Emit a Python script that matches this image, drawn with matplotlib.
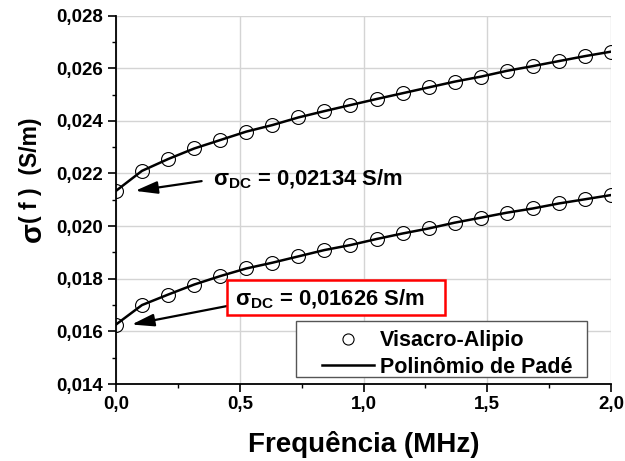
import matplotlib
matplotlib.use("Agg")
import matplotlib.pyplot as plt
from matplotlib.patches import Rectangle
from matplotlib.ticker import MultipleLocator, FuncFormatter

plt.rcParams['font.family'] = ['Liberation Sans', 'DejaVu Sans']
plt.rcParams['font.weight'] = 'bold'
plt.rcParams['mathtext.fontset'] = 'custom'
plt.rcParams['mathtext.rm'] = 'Liberation Sans:bold'
plt.rcParams['mathtext.bf'] = 'Liberation Sans:bold'
plt.rcParams['mathtext.it'] = 'Liberation Sans:bold'

# Frequency samples (MHz)
freq = [0.0, 0.105, 0.211, 0.316, 0.421, 0.526, 0.632, 0.737, 0.842, 0.947,
        1.053, 1.158, 1.263, 1.368, 1.474, 1.579, 1.684, 1.789, 1.895, 2.0]

# Conductivity (S/m) for the two soils
sigma_high = [0.02134, 0.02210, 0.02255, 0.02295, 0.02327, 0.02359, 0.02384,
              0.02413, 0.02437, 0.02460, 0.02483, 0.02505, 0.02527, 0.02549,
              0.02568, 0.02590, 0.02608, 0.02627, 0.02646, 0.02663]
sigma_low = [0.01626, 0.01700, 0.01740, 0.01778, 0.01810, 0.01839, 0.01861,
             0.01885, 0.01909, 0.01928, 0.01951, 0.01972, 0.01991, 0.02013,
             0.02032, 0.02051, 0.02067, 0.02086, 0.02102, 0.02118]

series_labels = ['Visacro-Alipio', 'Polinômio de Padé']
x_ticks = [0.0, 0.5, 1.0, 1.5, 2.0]
y_ticks = [0.014, 0.016, 0.018, 0.020, 0.022, 0.024, 0.026, 0.028]


def comma(v, nd):
    return f"{v:.{nd}f}".replace('.', ',')


fig = plt.figure(figsize=(6.25, 4.61), dpi=100)
ax = fig.add_axes([116 / 625, 1 - 384 / 461, 495 / 625, 368.4 / 461])

ax.grid(True, which='major', color='#d4d4d4', linewidth=1.0, zorder=0)
ax.set_axisbelow(True)

for s in (sigma_high, sigma_low):
    ax.plot(freq, s, linestyle='none', marker='o', markersize=10,
            markerfacecolor='none', markeredgecolor='black',
            markeredgewidth=0.8, zorder=3)
    ax.plot(freq, s, color='black', linewidth=1.8, zorder=4)

ax.set_xlim(0, 2.0)
ax.set_ylim(0.014, 0.028)
ax.set_xticks(x_ticks)
ax.set_yticks(y_ticks)
ax.xaxis.set_minor_locator(MultipleLocator(0.25))
ax.yaxis.set_minor_locator(MultipleLocator(0.001))
ax.xaxis.set_major_formatter(FuncFormatter(lambda v, p: comma(v, 1)))
ax.yaxis.set_major_formatter(FuncFormatter(lambda v, p: comma(v, 3)))
ax.tick_params(which='major', direction='out', length=6, width=1.2,
               labelsize=13.5, pad=3)
ax.tick_params(which='minor', direction='out', length=3, width=1.0)
for lab in ax.get_xticklabels() + ax.get_yticklabels():
    lab.set_fontweight('bold')

for side in ('top', 'right'):
    ax.spines[side].set_visible(False)
for side in ('left', 'bottom'):
    ax.spines[side].set_linewidth(1.3)

# Axis titles
fig.text(363.5 / 625, 1 - 444 / 461, 'Frequência (MHz)', ha='center',
         va='center', fontsize=20, fontweight='bold')
fig.text(33 / 625, 1 - 232 / 461, 'σ', ha='center', va='center',
         rotation=90, fontsize=21, fontweight='bold')
fig.text(31 / 625, 1 - 170 / 461, '( f )  (S/m)', ha='center', va='center',
         rotation=90, fontsize=16.5, fontweight='bold')

# DC conductivity callouts
arrow = dict(arrowstyle='-|>,head_length=0.9,head_width=0.25',
             color='black', linewidth=1.6, mutation_scale=15,
             shrinkA=0, shrinkB=0)
ax.text(0.196, 0.538, r'σ$_{\mathbf{DC}}$ = ' + comma(sigma_high[0], 5) + ' S/m',
        transform=ax.transAxes, ha='left', va='baseline', fontsize=15.8,
        fontweight='bold')
ax.annotate('', xy=(0.077, sigma_high[0]), xytext=(0.346, 0.02171),
            arrowprops=arrow)

ax.add_patch(Rectangle((0.224, 0.187), 0.441, 0.095, transform=ax.transAxes,
                       facecolor='white', edgecolor='red', linewidth=1.8,
                       zorder=5))
ax.text(0.240, 0.2144, r'σ$_{\mathbf{DC}}$ = ' + comma(sigma_low[0], 5) + ' S/m',
        transform=ax.transAxes, ha='left', va='baseline', fontsize=15.8,
        fontweight='bold', zorder=6)
ax.annotate('', xy=(0.063, sigma_low[0]), xytext=(0.447, 0.01696),
            arrowprops=arrow)

# Legend
ax.add_patch(Rectangle((0.3636, 0.019), 0.5879, 0.152, transform=ax.transAxes,
                       facecolor='white', edgecolor='#555555', linewidth=1.0,
                       zorder=5))
h1, = ax.plot([], [], linestyle='none', marker='o', markersize=10,
              markerfacecolor='none', markeredgecolor='black',
              markeredgewidth=0.8)
h2, = ax.plot([], [], color='black', linewidth=1.8)
leg = ax.legend([h1, h2], series_labels, loc='upper left',
                bbox_to_anchor=(0.416, 0.146), borderaxespad=0, borderpad=0,
                frameon=False, handlelength=2.4,
                handletextpad=0.3, labelspacing=0.25, numpoints=1,
                markerscale=0.8, prop={'weight': 'bold', 'size': 15.5})
leg.set_zorder(7)

fig.savefig('out.png', dpi=100)
